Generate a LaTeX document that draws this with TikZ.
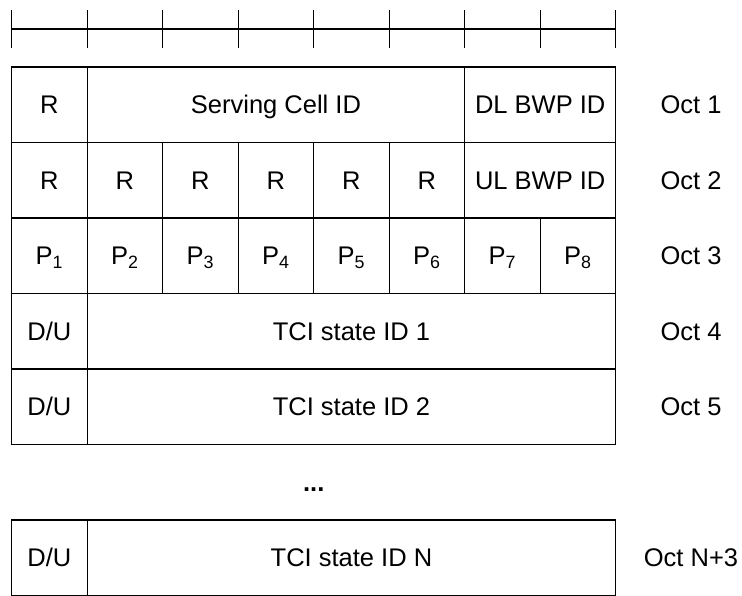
\documentclass[tikz,border=0pt]{standalone}
\usepackage{fontspec}
\setmainfont{Liberation Sans}
\begin{document}
\begin{tikzpicture}[x=1pt,y=-1pt,
  txt/.style={font=\fontsize{25.5}{30}\selectfont, text height=18.3pt, text depth=0pt},
  cell/.style={txt, draw, line width=1.2pt, rectangle, inner sep=0pt, outer sep=0pt,
    anchor=north west, minimum height=75.5pt},
  octlbl/.style={txt, inner sep=0pt},
  rulerline/.style={line width=1.4pt}]
\useasboundingbox (0,0) rectangle (742,595);
\def\cw{75.5}
\def\xo{11.7}
% ruler
\foreach \k in {0,...,8}{
  \coordinate (r\k) at ({\xo+\k*\cw},29);
  \coordinate (rt\k) at ({\xo+\k*\cw},10);
  \coordinate (rb\k) at ({\xo+\k*\cw},48);
  \draw[rulerline] (rt\k) -- (rb\k);
}
\draw[rulerline] (r0) -- (r8);
% row 1
\node[cell, minimum width=\cw pt] (a0) at (\xo,67) {R};
\node[cell, minimum width=5*\cw pt] (a1) at ({\xo+\cw},67) {Serving Cell ID};
\node[cell, minimum width=2*\cw pt] (a6) at ({\xo+6*\cw},67) {DL BWP ID};
% row 2
\foreach \k in {0,...,5}{
  \node[cell, minimum width=\cw pt] (b\k) at ({\xo+\k*\cw},142.5) {R};
}
\node[cell, minimum width=2*\cw pt] (b6) at ({\xo+6*\cw},142.5) {UL BWP ID};
% row 3
\foreach \k in {1,...,8}{
  \node[cell, minimum width=\cw pt] (c\k) at ({\xo+(\k-1)*\cw},218) {P\textsubscript{\k}};
}
% row 4
\node[cell, minimum width=\cw pt] (d0) at (\xo,293.5) {D/U};
\node[cell, minimum width=7*\cw pt] (d1) at ({\xo+\cw},293.5) {TCI state ID 1};
% row 5
\node[cell, minimum width=\cw pt] (e0) at (\xo,369) {D/U};
\node[cell, minimum width=7*\cw pt] (e1) at ({\xo+\cw},369) {TCI state ID 2};
% dots
\node[octlbl, font=\fontsize{25.5}{30}\selectfont\bfseries] (dots) at ({\xo+4*\cw},482) {...};
% row N
\node[cell, minimum width=\cw pt] (n0) at (\xo,520) {D/U};
\node[cell, minimum width=7*\cw pt] (n1) at ({\xo+\cw},520) {TCI state ID N};
% octet labels
\node[octlbl] (o1) at (691,104.75) {Oct 1};
\node[octlbl] (o2) at (691,180.25) {Oct 2};
\node[octlbl] (o3) at (691,255.75) {Oct 3};
\node[octlbl] (o4) at (691,331.25) {Oct 4};
\node[octlbl] (o5) at (691,406.75) {Oct 5};
\node[octlbl] (oN) at (691,557.75) {Oct N+3};
\end{tikzpicture}
\end{document}
